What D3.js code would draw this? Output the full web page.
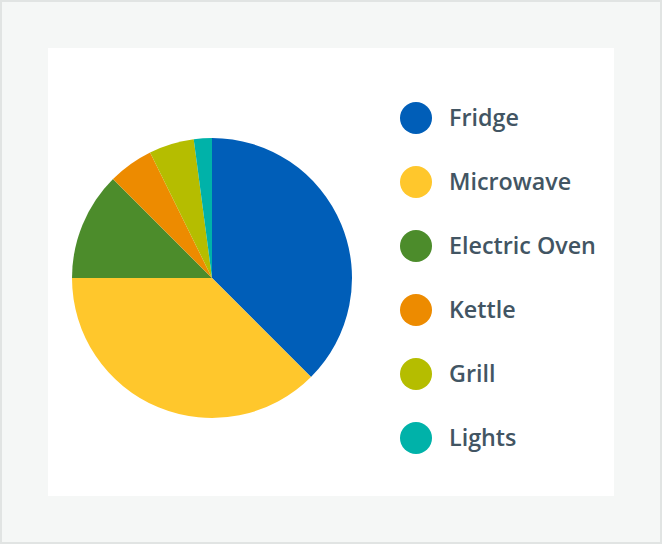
<!DOCTYPE html>
<html><head><meta charset="utf-8">
<script src="https://cdn.jsdelivr.net/npm/d3@7"></script>
<style>html,body{margin:0;padding:0;background:#fff;}svg{display:block;}</style>
</head><body>
<svg id="chart" width="662" height="544"></svg>
<script>
const categories = ["Fridge","Microwave","Electric Oven","Kettle","Grill","Lights"];
const values = [18, 18, 6, 2.5, 2.5, 1];
const colors = ["#005EB8","#FFC72C","#4C8C2B","#ED8B00","#B5BD00","#00B2A9"];

const svg = d3.select("#chart");
svg.append("rect").attr("x",1).attr("y",1).attr("width",660).attr("height",542)
  .attr("fill","#F5F7F6").attr("stroke","#E1E4E3").attr("stroke-width",2);
svg.append("rect").attr("x",48).attr("y",48).attr("width",566).attr("height",448).attr("fill","#fff");

const data = categories.map((c,i)=>({name:c, value:values[i], color:colors[i]}));
const pie = d3.pie().value(d=>d.value).sort(null);
const arc = d3.arc().innerRadius(0).outerRadius(140);
const g = svg.append("g").attr("transform","translate(212,278)");
g.selectAll("path").data(pie(data)).join("path").attr("d",arc).attr("fill",d=>d.data.color);

const y = d3.scalePoint().domain(categories).range([118,438]);
const leg = svg.append("g").selectAll("g").data(data).join("g")
  .attr("transform",d=>`translate(416,${y(d.name)})`);
leg.append("circle").attr("r",16).attr("fill",d=>d.color);
leg.append("text").attr("x",33).attr("dy","0.35em").text(d=>d.name)
  .attr("font-family","'Open Sans', sans-serif").attr("font-size",23.3).attr("font-weight",600).attr("fill","#425563");
</script>
</body></html>
